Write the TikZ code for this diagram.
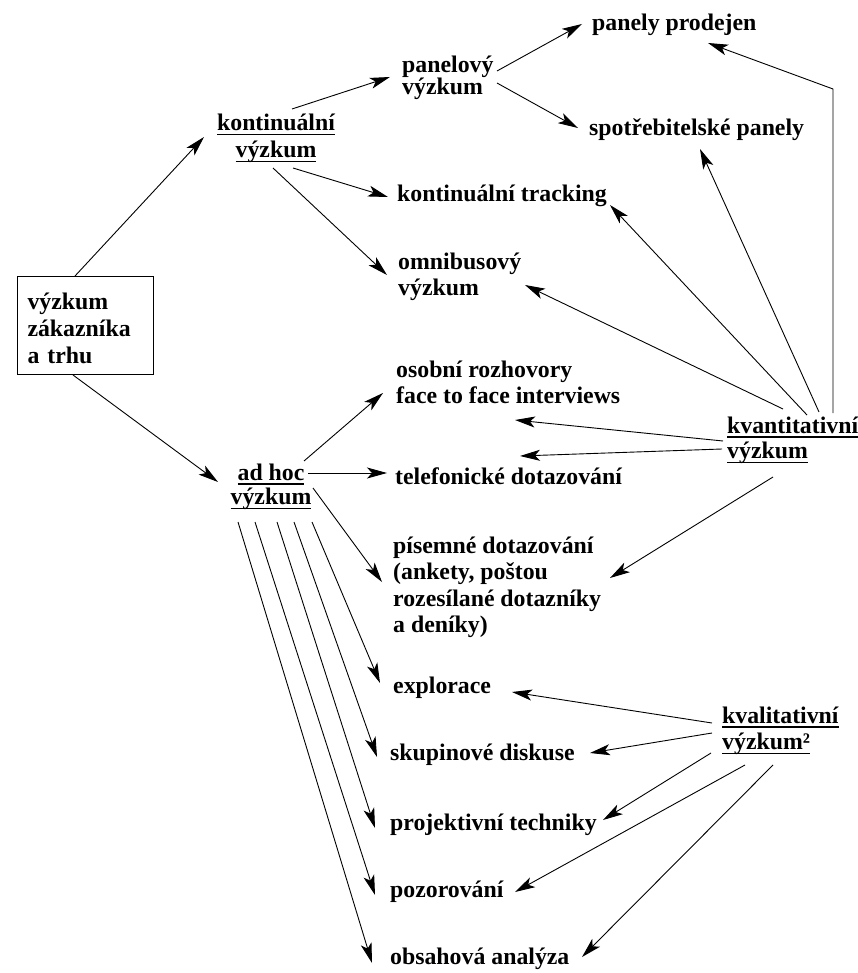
\documentclass[tikz,border=0pt]{standalone}
\usepackage{fontspec}
\setmainfont{Liberation Serif}
\usetikzlibrary{arrows.meta}
\newcommand\myul[1]{\setbox0\hbox{#1}\rlap{\rule[-4.5pt]{\wd0}{1.3pt}}\box0}
\begin{document}
\begin{tikzpicture}[x=1pt,y=-1pt,
  lbl/.style={anchor=base west, inner sep=0pt, align=left, font=\fontsize{23.8}{26.5}\selectfont\bfseries},
  clbl/.style={anchor=base, inner sep=0pt, align=center, font=\fontsize{23.8}{26.5}\selectfont\bfseries},
  arr/.style={-{Stealth[length=20pt,width=11pt,inset=5pt]}, line width=0.9pt},
  rootbox/.style={draw, line width=1pt, anchor=north west, minimum width=136pt, minimum height=98pt,
    text width=116pt, inner xsep=10pt, inner ysep=0pt, align=left, font=\fontsize{23.8}{26.8}\selectfont\bfseries}]
\useasboundingbox (0,0) rectangle (858,973);

% nodes (multi-line nodes are placed by the baseline of their last line)
\node[rootbox] (root) at (17,276) {\rule{0pt}{22pt}výzkum\\zákazníka\\a trhu};
\node[clbl] (kont) at (276,157.5) {\myul{kontinuální}\\\myul{výzkum}};
\node[clbl] (adhoc) at (271,504.5) {\myul{ad hoc}\\[-2pt]\myul{výzkum}};
\node[lbl] (panel) at (402,94.5) {panelový\\[-4.5pt]výzkum};
\node[lbl] (prodejen) at (592,31) {panely prodejen};
\node[lbl] (spotr) at (589,136) {spotřebitelské panely};
\node[lbl] (track) at (397,202) {kontinuální tracking};
\node[lbl] (omni) at (398,295.5) {omnibusový\\výzkum};
\node[lbl] (osob) at (396,403.5) {osobní rozhovory\\face to face interviews};
\node[lbl] (tel) at (395,484) {telefonické dotazování};
\node[lbl] (kvant) at (727,458.5) {\myul{kvantitativní}\\[-1pt]\myul{výzkum}};
\node[lbl] (pisem) at (393,632.5) {písemné dotazování\\(ankety, poštou\\rozesílané dotazníky\\a deníky)};
\node[lbl] (expl) at (393,693) {explorace};
\node[lbl] (kval) at (722,749.5) {\myul{kvalitativní}\\\myul{výzkum²}};
\node[lbl] (skup) at (390,760) {skupinové diskuse};
\node[lbl] (proj) at (390,830) {projektivní techniky};
\node[lbl] (pozor) at (390,897) {pozorování};
\node[lbl] (obsah) at (390,964) {obsahová analýza};

% ports
\coordinate (root-n) at (75,276);
\coordinate (root-s) at (73,375);
\coordinate (kont-in) at (204,137);
\coordinate (adhoc-in) at (218,482);
\coordinate (kont-o1) at (292,109);
\coordinate (kont-o2) at (293,168);
\coordinate (kont-o3) at (273,168);
\coordinate (panel-in) at (390,77);
\coordinate (track-in) at (388,197);
\coordinate (omni-in) at (387,275);
\coordinate (panel-o1) at (497,71);
\coordinate (panel-o2) at (497,83);
\coordinate (prodejen-in1) at (582,24);
\coordinate (spotr-in1) at (578,128);
\coordinate (kvant-o1) at (833,413);
\coordinate (kvant-bend) at (833,89);
\coordinate (prodejen-in2) at (708,43);
\coordinate (kvant-o2) at (819,412);
\coordinate (spotr-in2) at (700,149);
\coordinate (kvant-o3) at (807,415);
\coordinate (track-in2) at (610,205);
\coordinate (kvant-o4) at (783,409);
\coordinate (omni-in2) at (525,285);
\coordinate (kvant-o5) at (723,441);
\coordinate (osob-in2) at (515,420);
\coordinate (kvant-o6) at (722,449);
\coordinate (tel-in2) at (520,456);
\coordinate (kvant-o7) at (773,477);
\coordinate (pisem-in2) at (610,578);
\coordinate (adhoc-o1) at (304,461);
\coordinate (osob-in1) at (383,393);
\coordinate (adhoc-o2) at (308,473);
\coordinate (tel-in1) at (387,473);
\coordinate (adhoc-o3) at (313,488);
\coordinate (pisem-in1) at (382,582);
\coordinate (adhoc-o4) at (312,522);
\coordinate (expl-in1) at (380,683);
\coordinate (adhoc-o5) at (294,522);
\coordinate (skup-in1) at (377,757);
\coordinate (adhoc-o6) at (277,522);
\coordinate (proj-in1) at (375,828);
\coordinate (adhoc-o7) at (255,522);
\coordinate (pozor-in1) at (375,895);
\coordinate (adhoc-o8) at (238,522);
\coordinate (obsah-in1) at (372,963);
\coordinate (kval-o1) at (712,723);
\coordinate (expl-in2) at (512,692);
\coordinate (kval-o2) at (712,733);
\coordinate (skup-in2) at (590,753);
\coordinate (kval-o3) at (711,753);
\coordinate (proj-in2) at (603,820);
\coordinate (kval-o4) at (745,765);
\coordinate (pozor-in2) at (515,892);
\coordinate (kval-o5) at (773,765);
\coordinate (obsah-in2) at (582,957);

% connectors
\draw[arr] (root-n) -- (kont-in);
\draw[arr] (root-s) -- (adhoc-in);
\draw[arr] (kont-o1) -- (panel-in);
\draw[arr] (kont-o2) -- (track-in);
\draw[arr] (kont-o3) -- (omni-in);
\draw[arr] (panel-o1) -- (prodejen-in1);
\draw[arr] (panel-o2) -- (spotr-in1);
\draw[arr] (kvant-o1) -- (kvant-bend) -- (prodejen-in2);
\draw[arr] (kvant-o2) -- (spotr-in2);
\draw[arr] (kvant-o3) -- (track-in2);
\draw[arr] (kvant-o4) -- (omni-in2);
\draw[arr] (kvant-o5) -- (osob-in2);
\draw[arr] (kvant-o6) -- (tel-in2);
\draw[arr] (kvant-o7) -- (pisem-in2);
\draw[arr] (adhoc-o1) -- (osob-in1);
\draw[arr] (adhoc-o2) -- (tel-in1);
\draw[arr] (adhoc-o3) -- (pisem-in1);
\draw[arr] (adhoc-o4) -- (expl-in1);
\draw[arr] (adhoc-o5) -- (skup-in1);
\draw[arr] (adhoc-o6) -- (proj-in1);
\draw[arr] (adhoc-o7) -- (pozor-in1);
\draw[arr] (adhoc-o8) -- (obsah-in1);
\draw[arr] (kval-o1) -- (expl-in2);
\draw[arr] (kval-o2) -- (skup-in2);
\draw[arr] (kval-o3) -- (proj-in2);
\draw[arr] (kval-o4) -- (pozor-in2);
\draw[arr] (kval-o5) -- (obsah-in2);
\end{tikzpicture}
\end{document}
